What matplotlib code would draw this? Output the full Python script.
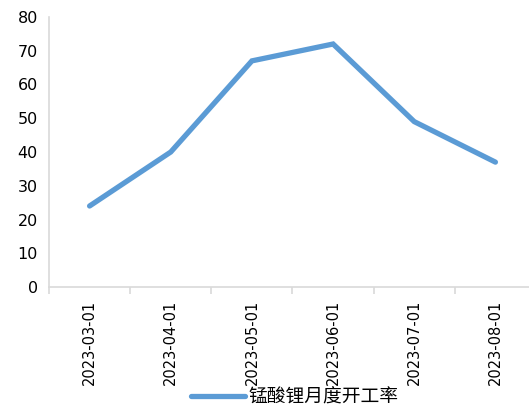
import matplotlib
matplotlib.use('Agg')
import matplotlib.pyplot as plt

# monthly data
dates = ['2023-03-01', '2023-04-01', '2023-05-01', '2023-06-01', '2023-07-01', '2023-08-01']
rate = [24, 40, 67, 72, 49, 37]
series_name = '锰酸锂月度开工率'

plt.rcParams['font.family'] = ['DejaVu Sans', 'Noto Sans CJK SC']

fig = plt.figure(figsize=(5.29, 4.09), dpi=100)
ax = fig.add_axes([49 / 529, 122 / 409, 487 / 529, 270 / 409])

x = list(range(len(dates)))
ax.plot(x, rate, color='#5b9bd5', linewidth=3.8, solid_capstyle='round',
        solid_joinstyle='miter', label=series_name)

ax.set_xlim(-0.5, len(dates) - 0.5)
ax.set_ylim(0, 80)
ax.set_yticks(range(0, 81, 10))
ax.tick_params(axis='y', length=0, labelsize=11.5, pad=8)

# category boundaries get the tick marks, labels sit in the middle
ax.set_xticks([i - 0.5 for i in range(len(dates) + 1)])
ax.set_xticklabels([])
ax.set_xticks(x, minor=True)
ax.set_xticklabels(dates, minor=True, rotation=90, fontsize=10.5)
ax.tick_params(axis='x', which='major', length=5, color='#d9d9d9', width=1.2)
ax.tick_params(axis='x', which='minor', length=0, pad=9)

for s in ['top', 'right']:
    ax.spines[s].set_visible(False)
for s in ['left', 'bottom']:
    ax.spines[s].set_color('#d9d9d9')
    ax.spines[s].set_linewidth(1.2)

fig.legend(loc='lower center', bbox_to_anchor=(0.557, -0.038), frameon=False,
           prop={'family': 'Noto Sans CJK SC', 'size': 13.5},
           handlelength=2.9, handletextpad=0.2)

fig.savefig('out.png', dpi=100)
